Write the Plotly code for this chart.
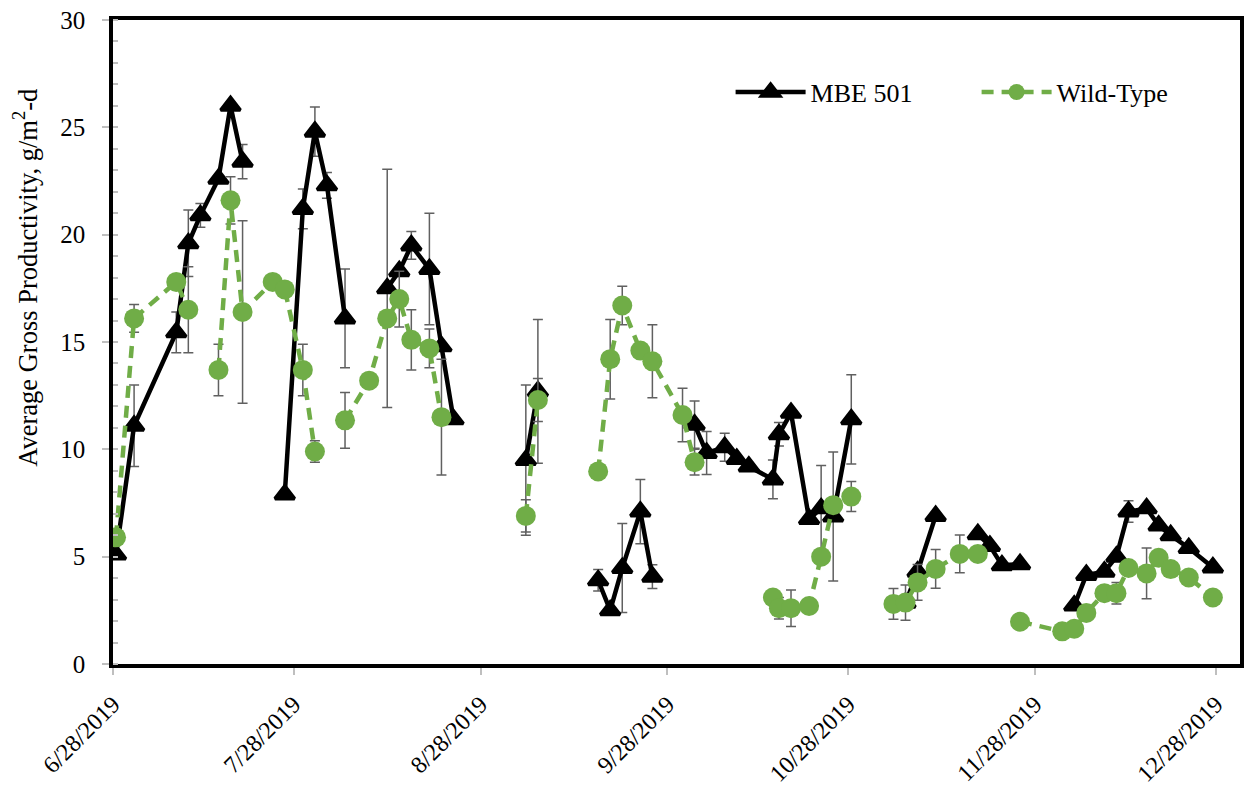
import pandas as pd
import plotly.graph_objects as go

# Sampling dates (M/W/F schedule); empty rows break the lines as in the source sheet
dates = [
    "2019-06-28", "2019-07-01", "2019-07-08", "2019-07-10", "2019-07-12", "2019-07-15",
    "2019-07-17", "2019-07-19", "2019-07-24", "2019-07-26", "2019-07-29", "2019-07-31",
    "2019-08-02", "2019-08-05", "2019-08-09", "2019-08-12", "2019-08-14", "2019-08-16",
    "2019-08-19", "2019-08-21", "2019-08-23", "2019-08-30", "2019-09-04", "2019-09-06",
    "2019-09-11", "2019-09-16", "2019-09-18", "2019-09-20", "2019-09-23", "2019-09-25",
    "2019-09-30", "2019-10-02", "2019-10-04", "2019-10-07", "2019-10-09", "2019-10-11",
    "2019-10-15", "2019-10-16", "2019-10-18", "2019-10-21", "2019-10-23", "2019-10-25",
    "2019-10-28", "2019-11-01", "2019-11-04", "2019-11-06", "2019-11-08", "2019-11-11",
    "2019-11-15", "2019-11-18", "2019-11-20", "2019-11-22", "2019-11-25", "2019-12-02",
    "2019-12-04", "2019-12-06", "2019-12-09", "2019-12-11", "2019-12-13", "2019-12-16",
    "2019-12-18", "2019-12-20", "2019-12-23", "2019-12-27",
]

mbe501 = [
    5.1, 11.1, 15.45, 19.6, 20.9, 22.6,
    26.0, 23.4, None, 7.9, 21.2, 24.8,
    22.3, 16.1, None, 17.5, 18.3, 19.5,
    18.4, 14.8, 11.4, None, 9.5, 12.7,
    None, 3.9, 2.5, 4.47, 7.1, 4.07,
    None, 11.15, 9.83, 10.1, 9.55, 9.2,
    8.6, 10.7, 11.7, 6.75, 7.25, 6.87,
    11.4, None, None, 2.85, 4.3, 6.9,
    None, 6.05, 5.5, 4.6, 4.65, None,
    2.72, 4.15, 4.3, 5.0, 7.1, 7.25,
    6.45, 6.0, 5.4, 4.5,
]
mbe501_err = [
    None, 1.9, 0.95, 1.55, 0.55, None,
    None, 0.8, None, None, 0.93, 1.15,
    0.6, 2.3, None, 5.55, None, 0.65,
    2.6, None, None, None, 3.5, 3.35,
    None, 0.5, None, 2.07, 1.5, 0.55,
    None, 1.1, 1.0, 0.65, None, None,
    0.9, 0.55, None, None, 2.0, 3.0,
    2.08, None, None, None, None, None,
    None, None, None, None, None, None,
    None, None, None, None, 0.5, None,
    None, None, None, None,
]

wild_type = [
    5.9, 16.1, 17.8, 16.5, None, 13.7,
    21.6, 16.4, 17.8, 17.45, 13.7, 9.9,
    None, 11.35, 13.2, 16.1, 17.0, 15.1,
    14.7, 11.5, None, None, 6.9, 12.3,
    None, 8.97, 14.2, 16.7, 14.6, 14.1,
    11.6, 9.4, None, None, None, None,
    3.1, 2.6, 2.6, 2.7, 5.0, 7.4,
    7.8, None, 2.8, 2.86, 3.8, 4.43,
    5.13, 5.13, None, None, 1.97, 1.52,
    1.64, 2.38, 3.3, 3.3, 4.47, 4.22,
    4.95, 4.42, 4.03, 3.1,
]
wild_type_err = [
    None, 0.65, None, 2.0, None, 1.2,
    1.1, 4.25, None, None, 1.2, 0.5,
    None, 1.3, None, None, 1.3, 1.4,
    0.9, 2.7, None, None, 0.75, 1.0,
    None, None, 1.85, 0.9, None, 1.7,
    1.25, 0.6, None, None, None, None,
    None, 0.5, 0.85, None, None, None,
    0.7, None, 0.72, 0.82, 0.83, 0.9,
    0.88, None, None, None, None, None,
    None, None, None, 0.5, None, 1.18,
    None, None, None, None,
]

tick_dates = ["2019-06-28", "2019-07-28", "2019-08-28", "2019-09-28",
              "2019-10-28", "2019-11-28", "2019-12-28"]
tick_labels = ["6/28/2019", "7/28/2019", "8/28/2019", "9/28/2019",
               "10/28/2019", "11/28/2019", "12/28/2019"]
y_title = "Average Gross Productivity, g/m<sup>2</sup>-d"

# Excel date axis with points "between tick marks": each day is centred in its slot
x = pd.to_datetime(dates) + pd.Timedelta(hours=12)

FONT = "Liberation Serif"
ERR_COLOR = "#606060"
GREEN = "#70AD47"

fig = go.Figure()
fig.add_trace(go.Scatter(
    x=x, y=mbe501, name="MBE 501", mode="lines+markers",
    line=dict(color="black", width=4.5),
    marker=dict(symbol="triangle-up", size=17, color="black",
                line=dict(color="black", width=3.5)),
    error_y=dict(type="data", array=mbe501_err, visible=True,
                 color=ERR_COLOR, thickness=1.5, width=5),
    connectgaps=False,
))
fig.add_trace(go.Scatter(
    x=x, y=wild_type, name="Wild-Type", mode="lines+markers",
    line=dict(color=GREEN, width=4.5, dash="12px,8px"),
    marker=dict(symbol="circle", size=20, color=GREEN),
    error_y=dict(type="data", array=wild_type_err, visible=True,
                 color=ERR_COLOR, thickness=1.5, width=5),
    connectgaps=False,
))

fig.update_layout(
    width=1250, height=786,
    margin=dict(l=113, r=10, t=20, b=122, autoexpand=False),
    paper_bgcolor="white", plot_bgcolor="white",
    font=dict(family=FONT, color="black", size=24),
    showlegend=True,
    legend=dict(
        orientation="h", x=0.548, y=0.888, xanchor="left", yanchor="middle",
        font=dict(family=FONT, size=26, color="black"),
        bgcolor="rgba(0,0,0,0)", entrywidth=161, entrywidthmode="pixels",
        itemwidth=70,
    ),
    annotations=[dict(
        text=y_title, textangle=-90, xref="paper", yref="paper",
        x=-0.078, y=0.6, xanchor="center", yanchor="middle", showarrow=False,
        font=dict(family=FONT, size=26.5, color="black"),
    )],
)
fig.update_xaxes(
    type="date", range=["2019-06-28", "2020-01-01"],
    tickmode="array", tickvals=tick_dates, ticktext=tick_labels,
    tickangle=-45, tickfont=dict(family=FONT, size=24, color="black"),
    ticks="outside", ticklen=7, tickwidth=1.5, tickcolor="#BFBFBF",
    showgrid=False, zeroline=False,
    showline=True, linecolor="black", linewidth=3.5, mirror=True,
    ticklabelstandoff=6,
)
fig.update_yaxes(
    range=[0, 30], dtick=5, tick0=0,
    tickfont=dict(family=FONT, size=25, color="black"),
    ticks="outside", ticklen=7, tickwidth=1.5, tickcolor="#BFBFBF",
    minor=dict(dtick=1, ticks="inside", ticklen=5, tickcolor="#BFBFBF", tickwidth=1.5),
    showgrid=False, zeroline=False,
    showline=True, linecolor="black", linewidth=3.5, mirror=True,
    ticklabelstandoff=12,
)

fig.write_html("out.html")
